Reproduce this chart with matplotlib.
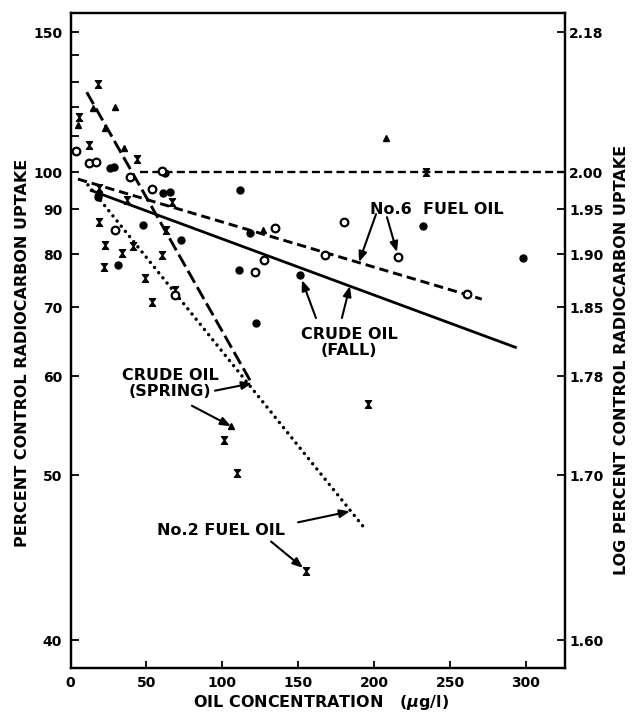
import numpy as np
import matplotlib
matplotlib.use('Agg')
import matplotlib.pyplot as plt
from matplotlib.path import Path
from matplotlib.ticker import FixedLocator, FixedFormatter, NullFormatter

### rcParams
plt.rcParams['font.family'] = 'DejaVu Sans'
plt.rcParams['font.weight'] = 'bold'
plt.rcParams['font.size'] = 11

### data
# hourglass (x) symbols
x_cross = [18, 44, 12, 5.5, 19, 23, 41, 34, 22, 60, 49, 54, 69, 67, 37, 63, 19, 234, 196, 101, 110, 155]
y_cross = [129, 103.5, 107.4, 116.5, 87, 82, 81.7, 80.2, 77.4, 79.8, 75.3, 70.9, 73.1, 91.8, 92.3, 85.2,
           95.5, 100, 57, 53.3, 50.2, 43.9]
# filled circles
x_dot = [26, 28.7, 61, 65.5, 18, 112, 31, 48, 73, 111, 122, 118, 151, 232, 298, 62]
y_dot = [101.1, 101.3, 94.2, 94.5, 93, 95.1, 77.8, 86.3, 83, 76.9, 67.5, 84.5, 75.9, 86.1, 79.2, 99.6]
# open circles
x_ring = [3.5, 12, 17, 39, 60, 54, 29, 69, 121.5, 127.5, 135, 180, 216, 261, 168]
y_ring = [105.7, 102.4, 102.6, 98.6, 100.3, 95.3, 85.2, 72.1, 76.5, 78.8, 85.6, 87, 79.4, 72.3, 79.8]
# filled triangles
x_tri = [29, 15, 23, 35, 5, 208, 106, 127]
y_tri = [120, 119.5, 112.6, 106.6, 113.6, 109.4, 54.7, 85.2]

# regression lines (end points)
x_fall, y_fall = [12.8, 294], [95.0, 63.9]
x_no6, y_no6 = [4.9, 271], [98.0, 71.4]
x_spring, y_spring = [10.7, 119.4], [125.7, 59.2]
x_no2, y_no2 = [11.5, 194], [96.4, 46.5]
x_ctrl, y_ctrl = [46, 326], [100, 100]

# axis ticks
x_ticks = [0, 50, 100, 150, 200, 250, 300]
y_ticks = [40, 50, 60, 70, 80, 90, 100, 150]
y_minor = [110, 120, 130, 140]
log_labels = ['1.60', '1.70', '1.78', '1.85', '1.90', '1.95', '2.00', '2.18']

### ordinate: printed scale is not a clean log axis, so map tick value -> row
knot_val = np.array([40, 50, 60, 70, 80, 90, 100, 110, 120, 130, 140, 150])
knot_row = np.array([640, 475, 376, 307, 254, 209, 172, 136, 106.7, 81.7, 55, 32])
lk = np.log10(knot_val)
pk = -knot_row


def _lin(x, xp, fp):
    x = np.asarray(x, dtype=float)
    y = np.interp(x, xp, fp)
    y = np.where(x < xp[0], fp[0] + (x - xp[0]) * (fp[1] - fp[0]) / (xp[1] - xp[0]), y)
    y = np.where(x > xp[-1], fp[-1] + (x - xp[-1]) * (fp[-1] - fp[-2]) / (xp[-1] - xp[-2]), y)
    return y


def fwd(v):
    v = np.clip(np.asarray(v, dtype=float), 1e-3, None)
    return _lin(np.log10(v), lk, pk)


def inv(p):
    return 10 ** _lin(p, pk, lk)


def setup_y(a):
    a.set_yscale('function', functions=(fwd, inv))
    a.set_ylim(float(inv(-668)), float(inv(-13)))


# hourglass marker
hourglass = Path([(-0.8, 1), (0.8, 1), (-0.8, -1), (0.8, -1), (-0.8, 1)],
                 [Path.MOVETO, Path.LINETO, Path.LINETO, Path.LINETO, Path.CLOSEPOLY])

### figure
fig = plt.figure(figsize=(6.34, 7.14), dpi=100)
ax = fig.add_axes([70.5 / 634, 1 - 668 / 714, (565 - 70.5) / 634, (668 - 13) / 714])
setup_y(ax)
ax.set_xlim(0, 325.8)

# lines
ax.plot(x_ctrl, y_ctrl, color='k', lw=1.7, linestyle=(0, (3.4, 1.8)))
ax.plot(x_fall, y_fall, color='k', lw=2.0, solid_capstyle='butt')
ax.plot(x_no6, y_no6, color='k', lw=2.1, linestyle=(0, (3.2, 1.7)))
ax.plot(x_spring, y_spring, color='k', lw=2.1, linestyle=(0, (4.7, 1.7)))
ax.plot(x_no2, y_no2, color='k', lw=2.5, linestyle=(0, (0.01, 1.9)), dash_capstyle='round')

# points
ax.plot(x_cross, y_cross, ls='none', marker=hourglass, ms=5.5, color='k')
ax.plot(x_dot, y_dot, ls='none', marker='o', ms=5, color='k')
ax.plot(x_ring, y_ring, ls='none', marker='o', ms=5.5, mfc='white', mec='k', mew=1.6)
ax.plot(x_tri, y_tri, ls='none', marker='^', ms=5, color='k')

# labels + arrows
arrow = dict(arrowstyle='-|>,head_length=0.55,head_width=0.22', lw=1.5, color='k',
             shrinkA=0, shrinkB=0)
notes = [
    ('No.6  FUEL OIL', (241.4, 89.8), [((201.3, 88.8), (190.1, 78.4)), ((208.5, 88.1), (215.1, 80.4))]),
    ('CRUDE OIL\n(FALL)', (183.6, 64.7), [((161.7, 68.3), (152.5, 74.9)), ((178.8, 68.3), (184.1, 73.8))]),
    ('CRUDE OIL\n(SPRING)', (65.6, 59.2), [((95.2, 58.4), (119.6, 59.2)), ((80.0, 56.8), (105.7, 54.7))]),
    ('No.2 FUEL OIL', (99.2, 46.4), [((149.9, 46.9), (184.1, 47.6)), ((132.1, 45.7), (153.2, 44.1))]),
]
for t, pos, arrs in notes:
    ax.text(pos[0], pos[1], t, ha='center', va='center', multialignment='center',
            linespacing=1.05, fontsize=11.5)
    for start, end in arrs:
        ax.annotate('', xy=end, xytext=start, arrowprops=arrow)

# ticks
ax.xaxis.set_major_locator(FixedLocator(x_ticks))
ax.yaxis.set_major_locator(FixedLocator(y_ticks))
ax.yaxis.set_major_formatter(FixedFormatter([str(v) for v in y_ticks]))
ax.yaxis.set_minor_locator(FixedLocator(y_minor))
ax.yaxis.set_minor_formatter(NullFormatter())
ax.tick_params(axis='both', which='both', direction='in', labelsize=10)
ax.tick_params(axis='x', length=5, width=1.3, pad=6, top=False)
ax.tick_params(axis='y', which='both', length=6, width=1.3, pad=6, right=False)

ax2 = ax.twinx()
setup_y(ax2)
ax2.yaxis.set_major_locator(FixedLocator(y_ticks))
ax2.yaxis.set_major_formatter(FixedFormatter(log_labels))
ax2.yaxis.set_minor_locator(FixedLocator([]))
ax2.tick_params(axis='y', direction='in', length=6, width=1.3, pad=3, labelsize=10)

for a in (ax, ax2):
    for s in a.spines.values():
        s.set_linewidth(1.6)

# axis titles
fig.text(23 / 634, 1 - 353 / 714, 'PERCENT CONTROL RADIOCARBON UPTAKE', rotation=90,
         ha='center', va='center', fontsize=11.5)
fig.text(622 / 634, 1 - 360 / 714, 'LOG PERCENT CONTROL RADIOCARBON UPTAKE', rotation=90,
         ha='center', va='center', fontsize=11.5)
fig.text(321 / 634, 1 - 702 / 714, 'OIL CONCENTRATION   ($\\mu$g/l)',
         ha='center', va='center', fontsize=11.5)

fig.savefig('out.png', dpi=100)
plt.close()
